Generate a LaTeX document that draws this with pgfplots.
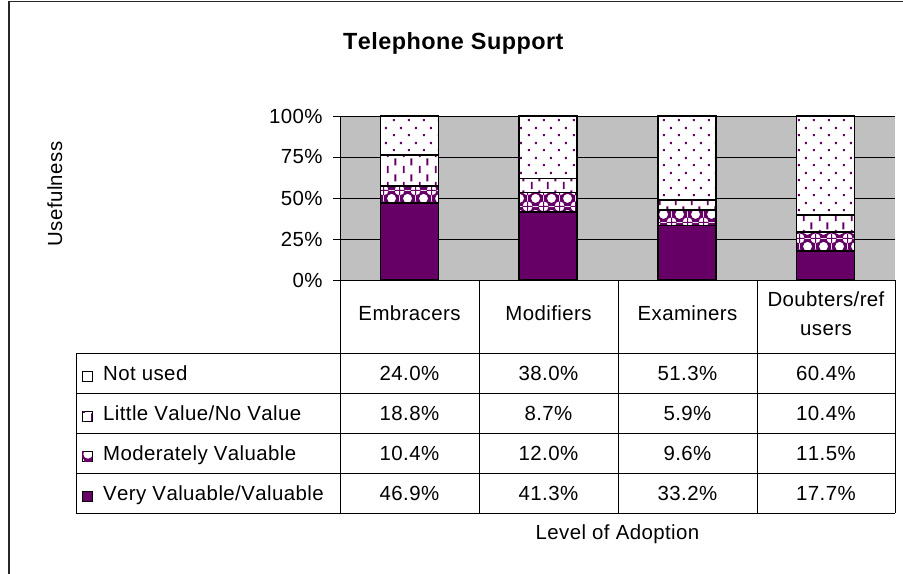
\documentclass[border=0pt]{standalone}
\usepackage{pgfplots}
\pgfplotsset{compat=1.18}
\usepackage{fontspec}
\setmainfont{Liberation Sans}[Kerning=Off, LetterSpace=2.0]
\usetikzlibrary{patterns}
\definecolor{vpurple}{RGB}{102,0,102}
\definecolor{silver}{RGB}{192,192,192}
\newcommand{\tf}{\fontsize{20.5}{24}\selectfont}

% sparse staggered dots
\pgfdeclarepatternformonly{xdots}{\pgfpointorigin}{\pgfpoint{15bp}{15bp}}{\pgfpoint{15bp}{15bp}}{
  \pgfpathrectangle{\pgfpoint{3bp}{3bp}}{\pgfpoint{2.2bp}{2.2bp}}
  \pgfpathrectangle{\pgfpoint{10.5bp}{10.5bp}}{\pgfpoint{2.2bp}{2.2bp}}
  \pgfusepath{fill}}
% staggered vertical dashes
\pgfdeclarepatternformonly{xdashes}{\pgfpointorigin}{\pgfpoint{16bp}{16bp}}{\pgfpoint{16bp}{16bp}}{
  \pgfpathrectangle{\pgfpoint{3bp}{1bp}}{\pgfpoint{2bp}{7.5bp}}
  \pgfpathrectangle{\pgfpoint{11bp}{9bp}}{\pgfpoint{2bp}{7.5bp}}
  \pgfusepath{fill}}
% purple net with white round holes -> linked diamonds
\pgfdeclarepatternformonly{xdiam}{\pgfpointorigin}{\pgfpoint{16bp}{16bp}}{\pgfpoint{16bp}{16bp}}{
  \pgfseteorule
  \pgfpathrectangle{\pgfpointorigin}{\pgfpoint{16bp}{16bp}}
  \pgfpathcircle{\pgfpoint{0bp}{0bp}}{4.8bp}
  \pgfpathcircle{\pgfpoint{16bp}{0bp}}{4.8bp}
  \pgfpathcircle{\pgfpoint{0bp}{16bp}}{4.8bp}
  \pgfpathcircle{\pgfpoint{16bp}{16bp}}{4.8bp}
  \pgfpathcircle{\pgfpoint{8bp}{8bp}}{4.8bp}
  \pgfusepath{fill}}

\begin{document}
\begin{tikzpicture}
\useasboundingbox (0,0) rectangle (903bp,-574bp);
\begin{axis}[
  at={(340bp,-280bp)}, anchor=south west,
  scale only axis, width=555bp, height=164bp,
  xmin=-0.5, xmax=3.5, ymin=0, ymax=100,
  axis background/.style={fill=silver},
  axis lines=left,
  axis line style={black, line width=1bp, -},
  xtick=\empty,
  ytick={0,25,50,75,100},
  yticklabel={\pgfmathprintnumber{\tick}\%},
  /pgf/number format/assume math mode=true,
  ticklabel style={font=\tf},
  yticklabel style={xshift=-7bp},
  tick style={black, line width=1bp},
  tick align=outside,
  major tick length=7bp,
  ymajorgrids,
  grid style={black, line width=1bp},
  ybar stacked,
  bar width=58bp,
  clip=false,
]
\addplot[fill=vpurple, draw=black, line width=1.6bp]
  coordinates {(0,46.9) (1,41.3) (2,33.2) (3,17.7)};
\addplot[draw=black, line width=1.6bp, preaction={fill=white}, pattern=xdiam, pattern color=vpurple]
  coordinates {(0,10.4) (1,12.0) (2,9.6) (3,11.5)};
\addplot[draw=black, line width=1.6bp, preaction={fill=white}, pattern=xdashes, pattern color=vpurple]
  coordinates {(0,18.8) (1,8.7) (2,5.9) (3,10.4)};
\addplot[draw=black, line width=1.6bp, preaction={fill=white}, pattern=xdots, pattern color=vpurple]
  coordinates {(0,24.0) (1,38.0) (2,51.3) (3,60.4)};
\end{axis}
\begin{scope}[x=1bp,y=-1bp]
  % outer chart frame
  \draw[line width=1.5bp, black!85] (9,574) -- (9,1.5) -- (903,1.5);
  % title
  \node[anchor=base west, inner sep=0, font=\bfseries\fontsize{23.5}{28}\selectfont] at (343,49.3) {Telephone Support};
  % y label
  \node[rotate=90, anchor=base, inner sep=0, font=\tf] at (62,194) {Usefulness};
  % table grid
  \begin{scope}[line width=1bp, black]
    \draw (340,280) -- (895,280);
    \foreach \x in {340,479,618,757,895} \draw (\x,280) -- (\x,513);
    \draw (76,353) -- (76,513);
    \foreach \y in {353,393,433,473,513} \draw (76,\y) -- (895,\y);
  \end{scope}
  % header
  \node[anchor=base, inner sep=0, font=\tf] at (409.5,320) {Embracers};
  \node[anchor=base, inner sep=0, font=\tf] at (548.5,320) {Modifiers};
  \node[anchor=base, inner sep=0, font=\tf] at (687.5,320) {Examiners};
  \node[anchor=base, inner sep=0, font=\tf] at (826,306) {Doubters/ref};
  \node[anchor=base, inner sep=0, font=\tf] at (826,335) {users};
  % row labels with swatches
  \draw[line width=0.9bp, fill=white] (82,371) rectangle (92,381);
  \fill[pattern=xdots, pattern color=vpurple] (82,371) rectangle (92,381);
  \node[anchor=base west, inner sep=0, font=\tf] at (103,380) {Not used};
  \draw[line width=0.9bp, fill=white] (82,411) rectangle (92,421);
  \fill[pattern=xdashes, pattern color=vpurple] (82,411) rectangle (92,421);
  \node[anchor=base west, inner sep=0, font=\tf] at (103,420) {Little Value/No Value};
  \draw[line width=0.9bp, fill=white] (82,451) rectangle (92,461);
  \fill[pattern=xdiam, pattern color=vpurple] (82,451) rectangle (92,461);
  \node[anchor=base west, inner sep=0, font=\tf] at (103,460) {Moderately Valuable};
  \draw[line width=0.9bp, fill=vpurple] (82,491) rectangle (92,501);
  \node[anchor=base west, inner sep=0, font=\tf] at (103,500) {Very Valuable/Valuable};
  % values
  \foreach \x/\a/\b/\c/\d in {409.5/24.0/18.8/10.4/46.9, 548.5/38.0/8.7/12.0/41.3, 687.5/51.3/5.9/9.6/33.2, 826/60.4/10.4/11.5/17.7} {
    \node[anchor=base, inner sep=0, font=\tf] at (\x,380) {\a\%};
    \node[anchor=base, inner sep=0, font=\tf] at (\x,420) {\b\%};
    \node[anchor=base, inner sep=0, font=\tf] at (\x,460) {\c\%};
    \node[anchor=base, inner sep=0, font=\tf] at (\x,500) {\d\%};
  }
  % x label
  \node[anchor=base, inner sep=0, font=\tf] at (617.5,539) {Level of Adoption};
\end{scope}
\end{tikzpicture}
\end{document}
